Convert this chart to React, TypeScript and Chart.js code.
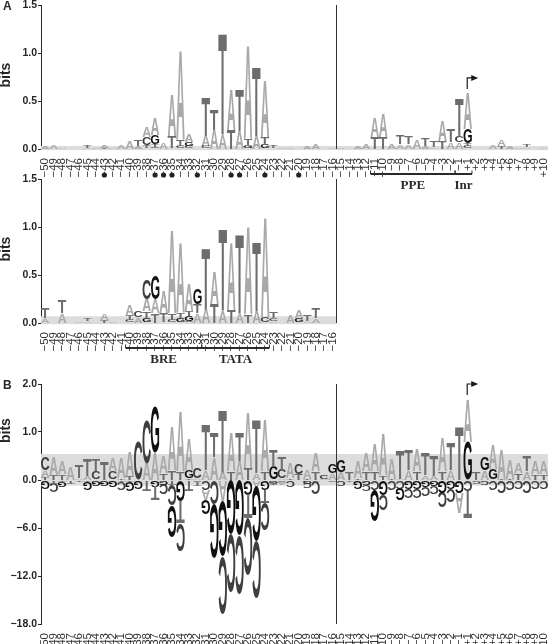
import React, { useEffect, useRef } from "react";
import { Chart, registerables } from "chart.js";

Chart.register(...registerables);

const POSITIONS_ALL = [
  "−50","−49","−48","−47","−46","−45","−44","−43","−42","−41",
  "−40","−39","−38","−37","−36","−35","−34","−33","−32","−31",
  "−30","−29","−28","−27","−26","−25","−24","−23","−22","−21",
  "−20","−19","−18","−17","−16","−15","−14","−13","−12","−11",
  "−10","−9","−8","−7","−6","−5","−4","−3","−2","−1",
  "+1","+2","+3","+4","+5","+6","+7","+8","+9","+10",
];
const POSITIONS_UPSTREAM = POSITIONS_ALL.slice(0, 35);

// Panel A, top logo (bits)
const topA = [
  .03,.04,.015,.01,.01,.012,.015,.02,.012,.05,
  .08,.03,.11,.17,.07,.44,.94,.08,.01,.11,
  .2,.15,.42,.19,.97,.14,.6,.01,.02,.015,
  .005,.03,.06,.005,.015,.015,.005,.03,.06,.2,
  .24,.06,.05,.05,.1,.03,.02,.21,.07,.07,
  .38,.01,.01,.05,.07,.03,.015,.02,.01,.015,
];
const topC = [
  0,0,0,0,0,0,0,0,0,0,
  0,0,.08,.02,0,.01,.03,.03,0,.03,
  0,0,0,0,.01,0,0,0,0,0,
  0,0,0,0,0,0,0,0,0,0,
  0,0,0,0,0,0,0,0,0,.07,
  .03,0,0,0,0,0,0,0,0,0,
];
const topG = [
  0,0,0,0,0,0,0,0,0,0,
  0,0,.01,.1,0,0,0,.04,0,0,
  0,0,0,0,.03,0,.04,0,0,0,
  0,0,0,0,0,0,0,0,0,0,
  0,0,0,0,0,0,0,0,0,0,
  .15,0,0,0,0,0,0,0,0,0,
];
const topT = [
  0,0,0,0,0,.03,0,.012,0,0,
  0,.06,.03,.03,0,.12,.06,0,0,.4,
  .22,1.05,.2,.43,.06,.71,.08,.03,0,0,
  0,0,0,0,0,0,0,0,0,.13,
  .12,0,.09,.08,0,.08,.06,.08,.14,.39,
  .03,0,0,0,.03,0,0,.02,0,0,
];

// Panel A, lower logo (bits)
const lowA = [
  .05,.005,.1,.01,.015,.02,.01,.06,.02,.01,
  .11,.06,.13,.15,.23,.87,.73,.28,.1,.15,
  .34,.12,.7,.1,.92,.12,1.04,.02,.01,.08,
  .08,.02,.05,.01,.01,
];
const lowC = [
  0,0,0,0,0,0,0,0,0,0,
  .03,.07,.21,0,0,.02,0,.02,0,0,
  0,0,0,0,0,0,.06,.03,0,0,
  0,0,0,0,0,
];
const lowG = [
  0,0,0,0,0,0,0,0,0,0,
  0,0,.05,.25,.01,.01,.05,.05,.17,0,
  0,0,0,0,0,0,0,0,0,0,
  .04,0,0,0,0,
];
const lowT = [
  .11,0,.13,0,0,.03,0,.03,0,0,
  .05,0,.07,.1,.09,.07,.05,.05,.1,.64,
  .2,.85,.14,.83,.09,.71,0,.06,0,0,
  .01,.06,.11,0,0,
];

// Panel B, over-represented letters (bits)
const upA = [
  .13,.38,.26,.28,.04,.08,.02,0,.28,.42,
  .5,0,.35,.57,.35,.92,1.24,.64,.03,.2,
  .48,.17,.8,.4,1.17,.15,1.07,.02,.03,.31,
  0,.18,.38,.03,.15,.17,0,.36,.38,.57,
  .86,.44,.03,.2,.45,.1,.08,.71,.2,0,
  .89,0,.21,.52,.62,.39,.21,.18,.26,.26,
];
const upC = [
  .27,0,0,0,0,0,.16,0,.17,0,
  0,.8,.9,0,0,0,0,0,.22,0,
  0,0,0,0,0,0,0,0,.18,0,
  .22,0,0,.07,0,0,0,0,0,0,
  0,0,0,0,0,0,0,0,0,0,
  0,0,0,0,0,0,0,0,0,0,
];
const upG = [
  0,0,0,0,0,0,0,0,0,0,
  0,0,0,.95,0,0,0,.17,0,0,
  0,0,0,0,0,0,0,.26,0,0,
  0,0,0,0,.2,.25,0,0,0,0,
  0,0,0,0,0,0,0,0,0,0,
  .8,0,.28,.23,0,0,0,0,0,0,
];
const upT = [
  .07,.11,.12,0,.27,.34,.24,.38,.01,.04,
  .08,0,0,0,.15,.2,.18,.03,0,.95,
  .52,1.3,.18,.6,.25,1.1,.18,.35,.28,.04,
  .13,.03,.18,0,0,0,.17,.04,.18,.18,
  .1,.03,.58,.43,.18,.45,.42,.18,.57,1.12,
  0,.17,0,0,.03,.03,.14,.31,.12,.12,
];

// Panel B, under-represented letters (bits, drawn downward)
const downA = [
  0,0,0,0,0,0,0,0,0,0,
  0,0,0,0,0,0,0,0,0,1.3,
  0,2.7,0,0,0,.8,0,0,.3,0,
  0,0,0,0,0,0,0,0,0,0,
  0,0,0,0,0,0,0,0,0,2.5,
  0,0,0,0,0,0,0,0,0,0,
];
const downC = [
  0,1.2,0,.1,0,0,0,0,0,1,
  0,0,0,0,1.3,2.6,3.5,0,.2,1.2,
  3,7.1,7.2,7.2,7,7,3.4,0,.2,.9,
  0,.7,1.6,.1,.2,.7,0,0,.8,1.2,
  2,1.2,1,1.2,1.2,1.1,.9,1.9,1.6,0,
  1.4,.3,.5,1.2,1.5,1.2,1.1,1.5,1,1.1,
];
const downG = [
  1,0,.6,0,0,1,.7,.7,.9,0,
  1.1,1,0,.8,.5,4,2.6,0,0,1.8,
  6.7,6.9,6.8,7,1.8,6.9,1.2,.3,0,0,
  0,.4,0,0,0,0,0,1,.6,4,
  1.8,0,1.4,1.1,1.1,.9,.7,1.5,1.1,1.6,
  0,0,0,0,0,0,0,0,0,0,
];
const downT = [
  0,.3,.2,.3,.25,.2,0,0,0,.2,
  .2,0,1.4,1.7,0,.6,2.8,1.4,.4,0,
  0,0,0,0,3,0,1.6,.3,0,0,
  .1,0,.15,0,0,0,.2,0,0,0,
  0,0,0,0,0,0,0,0,0,0,
  3.4,0,0,0,0,0,0,0,0,0,
];

const DOT_POSITIONS = ["−43","−37","−36","−35","−32","−28","−27","−24","−20"];
const LETTERS = ["A", "C", "G", "T"];
const LETTER_COLORS: Record<string, string> = { A: "#a9a9a9", C: "#3e3e3e", G: "#101010", T: "#6d6d6d" };
const INK = "#262626";
const SANS = '"Liberation Sans", Arial, sans-serif';
const SERIF = '"Liberation Serif", serif';
const NEG_COMPRESS = 6; // panel B axis: one negative tick interval spans 6 bits

type Bracket = { from: number; to: number; label: string };
type Panel = {
  top: number; width: number; height: number; areaHeight: number; paddingRight: number;
  labels: string[]; min: number; max: number; step: number;
  up: number[][]; down?: number[][];
  band: [number, number]; bitsAt: number; vline: number;
  panelTag?: string; arrow?: [number, number]; dots?: string[];
  brackets?: { y: number; segments: Bracket[] };
};

const toAxisB = (v: number) => (v < 0 ? v / NEG_COMPRESS : v);
const identity = (v: number) => v;

function stackDatasets(cols: number[][], toAxis: (v: number) => number, sign: number, flip: boolean) {
  const n = cols[0].length;
  const out = LETTERS.map((letter) => ({
    label: (flip ? "under " : "") + letter,
    letter, flip, grouped: false,
    backgroundColor: "rgba(0,0,0,0)", borderWidth: 0,
    barPercentage: 1, categoryPercentage: 1,
    data: new Array(n).fill(null) as ([number, number] | null)[],
  }));
  for (let i = 0; i < n; i++) {
    const order = [0, 1, 2, 3].filter((k) => cols[k][i] > 0).sort((a, b) => cols[a][i] - cols[b][i]);
    let cum = 0;
    for (const k of order) {
      const h = cols[k][i];
      out[k].data[i] = [toAxis(sign * cum), toAxis(sign * (cum + h))];
      cum += h;
    }
  }
  return out;
}

function drawLetter(ctx: CanvasRenderingContext2D, letter: string, x: number, yTop: number, w: number, h: number, flip: boolean) {
  ctx.save();
  ctx.font = `bold 100px ${SANS}`;
  ctx.textBaseline = "alphabetic";
  ctx.textAlign = "left";
  ctx.fillStyle = LETTER_COLORS[letter];
  const m = ctx.measureText(letter);
  const gw = m.actualBoundingBoxLeft + m.actualBoundingBoxRight;
  const gh = m.actualBoundingBoxAscent + m.actualBoundingBoxDescent;
  ctx.translate(x, yTop + h / 2);
  if (flip) ctx.rotate(Math.PI);
  ctx.scale(w / gw, h / gh);
  ctx.fillText(letter, -gw / 2 + m.actualBoundingBoxLeft, -gh / 2 + m.actualBoundingBoxAscent);
  ctx.restore();
}

function panelPlugin(p: Panel, toAxis: (v: number) => number) {
  return {
    id: "logoPanel",
    beforeDatasetsDraw(chart: any) {
      const { ctx, chartArea: a, scales } = chart;
      const y0 = scales.y.getPixelForValue(toAxis(p.band[0]));
      const y1 = scales.y.getPixelForValue(toAxis(p.band[1]));
      ctx.save();
      ctx.fillStyle = "#dcdcdc";
      ctx.fillRect(a.left, y0, a.right - a.left, y1 - y0);
      ctx.restore();
    },
    afterDatasetsDraw(chart: any) {
      const { ctx, chartArea: a, scales } = chart;
      chart.data.datasets.forEach((ds: any, di: number) => {
        chart.getDatasetMeta(di).data.forEach((el: any, i: number) => {
          if (!ds.data[i]) return;
          const top = Math.min(el.y, el.base);
          const h = Math.abs(el.base - el.y);
          drawLetter(ctx, ds.letter, el.x, top, el.width, h, ds.flip);
        });
      });

      const px = (v: number) => scales.x.getPixelForValue(v);
      ctx.save();
      // divider
      ctx.strokeStyle = "#333";
      ctx.lineWidth = 1;
      ctx.beginPath();
      const vx = Math.round(px(p.vline)) - 0.5;
      ctx.moveTo(vx, a.top);
      ctx.lineTo(vx, a.bottom);
      ctx.stroke();

      // y title
      ctx.fillStyle = INK;
      ctx.font = `bold 14px ${SANS}`;
      ctx.textAlign = "center";
      ctx.textBaseline = "middle";
      ctx.save();
      ctx.translate(6, scales.y.getPixelForValue(p.bitsAt));
      ctx.rotate(-Math.PI / 2);
      ctx.fillText("bits", 0, 0);
      ctx.restore();

      if (p.panelTag) {
        ctx.font = `bold 12px ${SANS}`;
        ctx.textAlign = "left";
        ctx.textBaseline = "top";
        ctx.fillText(p.panelTag, 3, a.top - 4);
      }

      // transcription start arrow
      if (p.arrow) {
        const x = px(p.labels.indexOf("+1")) - 0.5;
        const yb = scales.y.getPixelForValue(p.arrow[0]);
        const yt = scales.y.getPixelForValue(p.arrow[1]);
        ctx.strokeStyle = "#1a1a1a";
        ctx.lineWidth = 1.2;
        ctx.beginPath();
        ctx.moveTo(x, yb);
        ctx.lineTo(x, yt);
        ctx.lineTo(x + 5, yt);
        ctx.stroke();
        ctx.fillStyle = "#1a1a1a";
        ctx.beginPath();
        ctx.moveTo(x + 4, yt - 3);
        ctx.lineTo(x + 11, yt);
        ctx.lineTo(x + 4, yt + 3);
        ctx.closePath();
        ctx.fill();
      }

      // significant-position dots
      if (p.dots) {
        ctx.fillStyle = "#222";
        for (const d of p.dots) {
          ctx.beginPath();
          ctx.arc(px(p.labels.indexOf(d)), a.bottom + 26, 2.6, 0, Math.PI * 2);
          ctx.fill();
        }
      }

      // element brackets
      if (p.brackets) {
        const by = a.bottom + p.brackets.y;
        ctx.strokeStyle = "#2a2a2a";
        ctx.fillStyle = "#2a2a2a";
        ctx.lineWidth = 2;
        ctx.font = `bold 13px ${SERIF}`;
        ctx.textAlign = "center";
        ctx.textBaseline = "middle";
        const segs = p.brackets.segments;
        ctx.beginPath();
        ctx.moveTo(px(segs[0].from), by);
        ctx.lineTo(px(segs[segs.length - 1].to), by);
        ctx.stroke();
        ctx.lineWidth = 1;
        ctx.beginPath();
        for (const s of segs) {
          ctx.moveTo(px(s.from), by - 3.5);
          ctx.lineTo(px(s.from), by);
          ctx.moveTo(px(s.to), by - 3.5);
          ctx.lineTo(px(s.to), by);
        }
        ctx.stroke();
        for (const s of segs) ctx.fillText(s.label, (px(s.from) + px(s.to)) / 2, by + 11.5);
      }
      ctx.restore();
    },
  };
}

const PANELS: (Panel & { transform: (v: number) => number; tick: (v: number) => string })[] = [
  {
    top: 0, width: 548, height: 200, areaHeight: 144, paddingRight: 0,
    labels: POSITIONS_ALL, min: 0, max: 1.5, step: 0.5,
    up: [topA, topC, topG, topT],
    band: [-0.012, 0.032], bitsAt: 0.77, vline: 34.5,
    panelTag: "A", arrow: [0.625, 0.74], dots: DOT_POSITIONS,
    brackets: { y: 25, segments: [
      { from: 38.5, to: 48.5, label: "PPE" },
      { from: 48.5, to: 50.5, label: "Inr" },
    ] },
    transform: identity, tick: (v) => v.toFixed(1),
  },
  {
    top: 174, width: 338, height: 200, areaHeight: 144, paddingRight: 1,
    labels: POSITIONS_UPSTREAM, min: 0, max: 1.5, step: 0.5,
    up: [lowA, lowC, lowG, lowT],
    band: [-0.012, 0.07], bitsAt: 0.77, vline: 34.5,
    brackets: { y: 25, segments: [
      { from: 9.5, to: 18.5, label: "BRE" },
      { from: 18.5, to: 26.5, label: "TATA" },
    ] },
    transform: identity, tick: (v) => v.toFixed(1),
  },
  {
    top: 379, width: 548, height: 265, areaHeight: 240, paddingRight: 0,
    labels: POSITIONS_ALL, min: -3, max: 2, step: 1,
    up: [upA, upC, upG, upT], down: [downA, downC, downG, downT],
    band: [-0.7, 0.54], bitsAt: 1.03, vline: 34.5,
    panelTag: "B", arrow: [1.77, 2.0],
    transform: toAxisB,
    tick: (v) => (v < 0 ? `−${(-v * NEG_COMPRESS).toFixed(1)}` : v.toFixed(1)),
  },
];

function LogoPanel({ panel }: { panel: (typeof PANELS)[number] }) {
  const ref = useRef<HTMLCanvasElement>(null);
  useEffect(() => {
    const p = panel;
    const datasets: any[] = stackDatasets(p.up, p.transform, 1, false);
    if (p.down) datasets.push(...stackDatasets(p.down, p.transform, -1, true));
    const chart = new Chart(ref.current as HTMLCanvasElement, {
      type: "bar",
      data: { labels: p.labels, datasets },
      plugins: [panelPlugin(p, p.transform)],
      options: {
        responsive: false,
        animation: false,
        layout: { padding: { top: 5, right: p.paddingRight, bottom: 0, left: 0 } },
        plugins: { legend: { display: false }, tooltip: { enabled: false }, title: { display: false } },
        scales: {
          x: {
            type: "category",
            offset: true,
            grid: { display: false },
            border: { display: false },
            afterFit: (s: any) => {
              s.height = p.height - 5 - p.areaHeight;
              s.paddingLeft = 0;
              s.paddingRight = 0;
            },
            ticks: {
              autoSkip: false, minRotation: 90, maxRotation: 90, padding: 1,
              color: "#333", font: { family: SANS, size: 11.5 },
            },
          },
          y: {
            type: "linear", min: p.min, max: p.max,
            afterFit: (s: any) => { s.width = 41; s.paddingTop = 0; s.paddingBottom = 0; },
            border: { display: true, color: INK, width: 1 },
            grid: { drawOnChartArea: false, drawTicks: true, tickLength: 3, color: INK },
            ticks: {
              stepSize: p.step, padding: 1, color: INK,
              font: { family: SANS, size: 10.5, weight: "bold" },
              callback: (v: any) => p.tick(Number(v)),
            },
          },
        },
      },
    } as any);
    return () => chart.destroy();
  }, [panel]);
  return (
    <canvas
      ref={ref}
      width={panel.width}
      height={panel.height}
      style={{ position: "absolute", left: 0, top: panel.top, width: panel.width, height: panel.height, display: "block" }}
    />
  );
}

export default function App() {
  return (
    <div style={{ position: "absolute", left: 0, top: 0, width: 548, height: 644, overflow: "hidden", background: "#fff" }}>
      {PANELS.map((p, i) => <LogoPanel key={i} panel={p} />)}
    </div>
  );
}
